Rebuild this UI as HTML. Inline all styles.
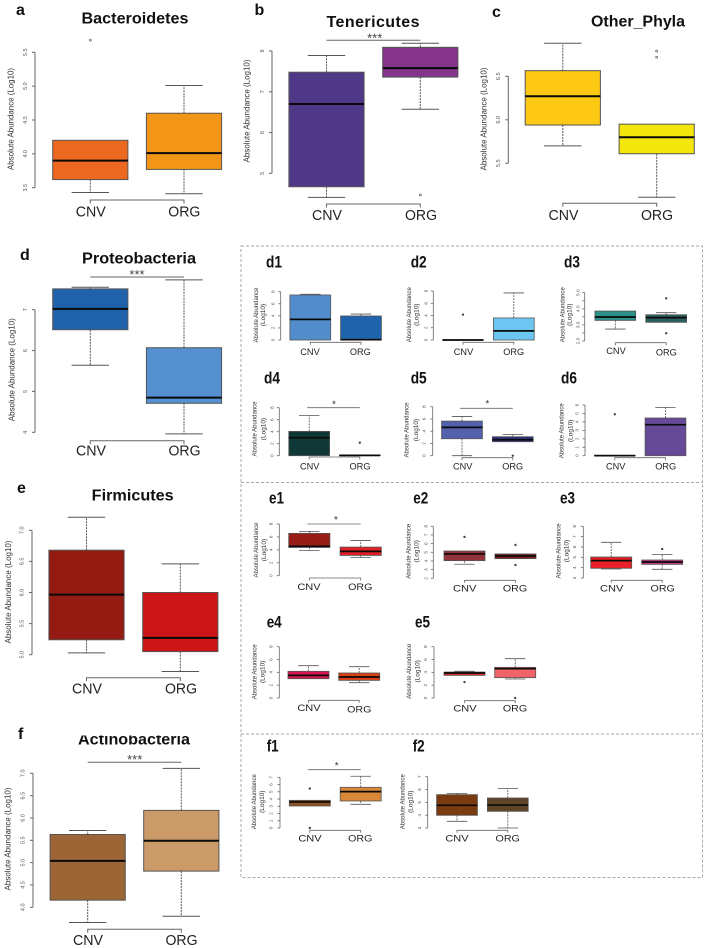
<!DOCTYPE html>
<html lang="en">
<head>
<meta charset="utf-8">
<title>Absolute abundance boxplots by phylum</title>
<style>
html,body{margin:0;padding:0;background:#fff;}
#figure{display:block;width:706px;height:948px;filter:blur(0.35px);}
text{font-family:"Liberation Sans",sans-serif;}
.let{font-size:16px;font-weight:bold;fill:#111;}
.sub{font-size:16.5px;font-weight:bold;fill:#111;}
.ttl{font-size:16px;font-weight:bold;fill:#111;text-anchor:middle;}
.at{font-size:8.4px;fill:#333;text-anchor:middle;}
.sat{font-size:6.5px;fill:#333;text-anchor:middle;}
.cat{font-size:15px;fill:#222;text-anchor:middle;}
.scat{font-size:9.2px;fill:#222;text-anchor:middle;}
.star{font-size:13px;fill:#444;text-anchor:middle;}
.sstar{font-size:10px;fill:#333;text-anchor:middle;}
.frame{fill:none;stroke:#a8a8a8;stroke-width:1;stroke-dasharray:3 2;}
</style>
</head>
<body>
<svg id="figure" xmlns="http://www.w3.org/2000/svg" width="706" height="948" viewBox="0 0 706 948">
<rect x="0" y="0" width="706" height="948" fill="#fff"/>

<g>
<rect class="frame" x="241" y="246" width="461.5" height="631.5"/>
<line class="frame" x1="241" y1="482.5" x2="702.5" y2="482.5"/>
<line class="frame" x1="241" y1="734" x2="702.5" y2="734"/>
</g>

<g id="marks"></g>

<g>
<text class="let" x="16" y="15">a</text>
<text class="ttl" x="135" y="23.3" textLength="107" lengthAdjust="spacingAndGlyphs">Bacteroidetes</text>
<text class="at" transform="translate(13.5,119) rotate(-90)" textLength="102" lengthAdjust="spacingAndGlyphs">Absolute Abundance (Log10)</text>
<text class="cat" x="90.7" y="216.7" textLength="30" lengthAdjust="spacingAndGlyphs">CNV</text>
<text class="cat" x="184.3" y="216.7" textLength="32" lengthAdjust="spacingAndGlyphs">ORG</text>
</g>

<g>
<text class="let" x="254.5" y="15">b</text>
<text class="ttl" x="373" y="27" textLength="93" lengthAdjust="spacing">Tenericutes</text>
<text class="star" x="374.7" y="42.5">***</text>
<text class="at" transform="translate(249.5,111) rotate(-90)" textLength="103" lengthAdjust="spacingAndGlyphs">Absolute Abundance (Log10)</text>
<text class="cat" x="327" y="220" textLength="30" lengthAdjust="spacingAndGlyphs">CNV</text>
<text class="cat" x="421" y="220" textLength="32" lengthAdjust="spacingAndGlyphs">ORG</text>
</g>

<g>
<text class="let" x="492" y="17">c</text>
<text class="ttl" x="638" y="26.7" textLength="94" lengthAdjust="spacingAndGlyphs">Other_Phyla</text>
<text class="at" transform="translate(486.5,119) rotate(-90)" textLength="103" lengthAdjust="spacingAndGlyphs">Absolute Abundance (Log10)</text>
<text class="cat" x="563.5" y="220" textLength="30" lengthAdjust="spacingAndGlyphs">CNV</text>
<text class="cat" x="657" y="220" textLength="32" lengthAdjust="spacingAndGlyphs">ORG</text>
</g>

<g>
<text class="let" x="20" y="260">d</text>
<text class="ttl" x="139" y="263.3" textLength="114" lengthAdjust="spacingAndGlyphs">Proteobacteria</text>
<text class="star" x="137" y="279">***</text>
<text class="at" transform="translate(14.5,369.7) rotate(-90)" textLength="103" lengthAdjust="spacingAndGlyphs">Absolute Abundance (Log10)</text>
<text class="cat" x="91" y="455.7" textLength="30" lengthAdjust="spacingAndGlyphs">CNV</text>
<text class="cat" x="184.5" y="455.7" textLength="32" lengthAdjust="spacingAndGlyphs">ORG</text>
</g>

<g>
<text class="let" x="17" y="493">e</text>
<text class="ttl" x="132.7" y="500.7" textLength="82" lengthAdjust="spacingAndGlyphs">Firmicutes</text>
<text class="at" transform="translate(11,592) rotate(-90)" textLength="103" lengthAdjust="spacingAndGlyphs">Absolute Abundance (Log10)</text>
<text class="cat" x="87" y="693.7" textLength="30" lengthAdjust="spacingAndGlyphs">CNV</text>
<text class="cat" x="181" y="693.7" textLength="32" lengthAdjust="spacingAndGlyphs">ORG</text>
</g>

<g>
<text class="let" x="18" y="739">f</text>
<text class="ttl" x="134" y="744.3" textLength="112" lengthAdjust="spacingAndGlyphs">Actinobacteria</text>
<rect x="70" y="725" width="130" height="10.5" fill="#fff"/>
<text class="star" x="134.7" y="764">***</text>
<text class="at" transform="translate(10.7,839) rotate(-90)" textLength="103" lengthAdjust="spacingAndGlyphs">Absolute Abundance (Log10)</text>
<text class="cat" x="88" y="945" textLength="30" lengthAdjust="spacingAndGlyphs">CNV</text>
<text class="cat" x="181.5" y="945" textLength="32" lengthAdjust="spacingAndGlyphs">ORG</text>
</g>

<g>
<text class="sub" x="266" y="267.7" textLength="16" lengthAdjust="spacingAndGlyphs">d1</text>
<text class="sat" transform="translate(258,315) rotate(-90)" textLength="55" lengthAdjust="spacingAndGlyphs">Absolute Abundance</text>
<text class="sat" transform="translate(265,315) rotate(-90)">(Log10)</text>
<text class="scat" x="310" y="354.8">CNV</text>
<text class="scat" x="360.3" y="354.8">ORG</text>
</g>
<g>
<text class="sub" x="410.7" y="267.7" textLength="16" lengthAdjust="spacingAndGlyphs">d2</text>
<text class="sat" transform="translate(411,314.7) rotate(-90)" textLength="55" lengthAdjust="spacingAndGlyphs">Absolute Abundance</text>
<text class="sat" transform="translate(418.7,314.7) rotate(-90)">(Log10)</text>
<text class="scat" x="463.5" y="354.8">CNV</text>
<text class="scat" x="513.7" y="354.8">ORG</text>
</g>
<g>
<text class="sub" x="564" y="267.7" textLength="16" lengthAdjust="spacingAndGlyphs">d3</text>
<text class="sat" transform="translate(564.3,314.7) rotate(-90)" textLength="55" lengthAdjust="spacingAndGlyphs">Absolute Abundance</text>
<text class="sat" transform="translate(571.3,314.7) rotate(-90)">(Log10)</text>
<text class="scat" x="616" y="354.2">CNV</text>
<text class="scat" x="666.3" y="355.4">ORG</text>
</g>

<g>
<text class="sub" x="264" y="383.3" textLength="16" lengthAdjust="spacingAndGlyphs">d4</text>
<text class="sstar" x="334" y="407.5">*</text>
<text class="sat" transform="translate(256.7,429) rotate(-90)" textLength="55" lengthAdjust="spacingAndGlyphs">Absolute Abundance</text>
<text class="sat" transform="translate(265.3,429) rotate(-90)">(Log10)</text>
<text class="scat" x="309.7" y="469.4">CNV</text>
<text class="scat" x="360" y="469.4">ORG</text>
</g>
<g>
<text class="sub" x="410.7" y="383.3" textLength="16" lengthAdjust="spacingAndGlyphs">d5</text>
<text class="sstar" x="487.3" y="407">*</text>
<text class="sat" transform="translate(408.7,430) rotate(-90)" textLength="55" lengthAdjust="spacingAndGlyphs">Absolute Abundance</text>
<text class="sat" transform="translate(418,430) rotate(-90)">(Log10)</text>
<text class="scat" x="462.7" y="469.4">CNV</text>
<text class="scat" x="512.7" y="469.4">ORG</text>
</g>
<g>
<text class="sub" x="561" y="383.3" textLength="16" lengthAdjust="spacingAndGlyphs">d6</text>
<text class="sat" transform="translate(563.7,430.8) rotate(-90)" textLength="55" lengthAdjust="spacingAndGlyphs">Absolute Abundance</text>
<text class="sat" transform="translate(572.7,430.8) rotate(-90)">(Log10)</text>
<text class="scat" x="615.7" y="469.4">CNV</text>
<text class="scat" x="665.7" y="469.4">ORG</text>
</g>

<g>
<text class="sub" x="269" y="503.3" textLength="15" lengthAdjust="spacingAndGlyphs">e1</text>
<text class="sstar" x="336" y="523">*</text>
<text class="sat" transform="translate(258,550) rotate(-90)" textLength="55" lengthAdjust="spacingAndGlyphs">Absolute Abundance</text>
<text class="sat" transform="translate(266,550) rotate(-90)">(Log10)</text>
<text class="scat" x="309" y="589.8" textLength="23.3" lengthAdjust="spacingAndGlyphs">CNV</text>
<text class="scat" x="360.3" y="589.8" textLength="24.3" lengthAdjust="spacingAndGlyphs">ORG</text>
</g>
<g>
<text class="sub" x="413.3" y="503.3" textLength="15" lengthAdjust="spacingAndGlyphs">e2</text>
<text class="sat" transform="translate(410.3,551.3) rotate(-90)" textLength="55" lengthAdjust="spacingAndGlyphs">Absolute Abundance</text>
<text class="sat" transform="translate(418.7,551.3) rotate(-90)">(Log10)</text>
<text class="scat" x="464.7" y="591.4" textLength="23.3" lengthAdjust="spacingAndGlyphs">CNV</text>
<text class="scat" x="515" y="591.4" textLength="24.3" lengthAdjust="spacingAndGlyphs">ORG</text>
</g>
<g>
<text class="sub" x="560" y="503.3" textLength="15" lengthAdjust="spacingAndGlyphs">e3</text>
<text class="sat" transform="translate(560.3,551) rotate(-90)" textLength="55" lengthAdjust="spacingAndGlyphs">Absolute Abundance</text>
<text class="sat" transform="translate(568.7,551) rotate(-90)">(Log10)</text>
<text class="scat" x="611.7" y="591.4" textLength="23.3" lengthAdjust="spacingAndGlyphs">CNV</text>
<text class="scat" x="662.7" y="591.4" textLength="24.3" lengthAdjust="spacingAndGlyphs">ORG</text>
</g>

<g>
<text class="sub" x="266.7" y="627.7" textLength="15" lengthAdjust="spacingAndGlyphs">e4</text>
<text class="sat" transform="translate(256.3,671.8) rotate(-90)" textLength="55" lengthAdjust="spacingAndGlyphs">Absolute Abundance</text>
<text class="sat" transform="translate(264.3,671.8) rotate(-90)">(Log10)</text>
<text class="scat" x="309" y="711.1" textLength="23.3" lengthAdjust="spacingAndGlyphs">CNV</text>
<text class="scat" x="359.3" y="712.4" textLength="24.3" lengthAdjust="spacingAndGlyphs">ORG</text>
</g>
<g>
<text class="sub" x="415" y="627.7" textLength="15" lengthAdjust="spacingAndGlyphs">e5</text>
<text class="sat" transform="translate(411,671.3) rotate(-90)" textLength="55" lengthAdjust="spacingAndGlyphs">Absolute Abundance</text>
<text class="sat" transform="translate(419.3,671.3) rotate(-90)">(Log10)</text>
<text class="scat" x="465" y="711.4" textLength="23.3" lengthAdjust="spacingAndGlyphs">CNV</text>
<text class="scat" x="515" y="711.4" textLength="24.3" lengthAdjust="spacingAndGlyphs">ORG</text>
</g>

<g>
<text class="sub" x="266.7" y="751.7" textLength="12" lengthAdjust="spacingAndGlyphs">f1</text>
<text class="sstar" x="336.7" y="769">*</text>
<text class="sat" transform="translate(256,801.7) rotate(-90)" textLength="55" lengthAdjust="spacingAndGlyphs">Absolute Abundance</text>
<text class="sat" transform="translate(264,801.7) rotate(-90)">(Log10)</text>
<text class="scat" x="310" y="841.4" textLength="23.3" lengthAdjust="spacingAndGlyphs">CNV</text>
<text class="scat" x="360.3" y="841.4" textLength="24.3" lengthAdjust="spacingAndGlyphs">ORG</text>
</g>
<g>
<text class="sub" x="412.7" y="751.7" textLength="12" lengthAdjust="spacingAndGlyphs">f2</text>
<text class="sat" transform="translate(404.7,801.7) rotate(-90)" textLength="55" lengthAdjust="spacingAndGlyphs">Absolute Abundance</text>
<text class="sat" transform="translate(412.7,801.7) rotate(-90)">(Log10)</text>
<text class="scat" x="457" y="841.4" textLength="23.3" lengthAdjust="spacingAndGlyphs">CNV</text>
<text class="scat" x="507.7" y="841.4" textLength="24.3" lengthAdjust="spacingAndGlyphs">ORG</text>
</g>
</svg>

<script>
// Categories, in drawing order along every x axis
const categories = ['cnv', 'org'];

// Each box row: [lower whisker, Q1, median, Q3, upper whisker]
const ticks_a = ['3.5', '4.0', '4.5', '5.0', '5.5'];
const box_a_cnv = [3.43, 3.62, 3.90, 4.20, 4.20];
const box_a_org = [3.41, 3.77, 4.01, 4.60, 5.01];
const out_a_cnv = [5.68];
const out_a_org = [];

const ticks_b = ['5', '6', '7', '8'];
const box_b_cnv = [4.41, 4.67, 6.70, 7.48, 7.89];
const box_b_org = [6.57, 7.36, 7.58, 8.09, 8.19];
const out_b_cnv = [];
const out_b_org = [4.47];

const ticks_c = ['5.5', '6.0', '6.5'];
const box_c_cnv = [5.70, 5.94, 6.27, 6.565, 6.88];
const box_c_org = [5.11, 5.61, 5.80, 5.95, 5.95];
const out_c_cnv = [];
const out_c_org = [6.72, 6.79];

const ticks_d = ['4', '5', '6', '7'];
const box_d_cnv = [5.64, 6.51, 7.02, 7.51, 7.55];
const box_d_org = [3.96, 4.71, 4.85, 6.07, 7.73];
const out_d_cnv = [];
const out_d_org = [];

const ticks_e = ['5.0', '5.5', '6.0', '6.5', '7.0'];
const box_e_cnv = [5.03, 5.24, 5.965, 6.68, 7.21];
const box_e_org = [4.73, 5.05, 5.27, 6.00, 6.46];
const out_e_cnv = [];
const out_e_org = [];

const ticks_f = ['4.0', '4.5', '5.0', '5.5', '6.0', '6.5', '7.0'];
const box_f_cnv = [3.66, 4.16, 5.04, 5.63, 5.72];
const box_f_org = [3.80, 4.81, 5.49, 6.17, 7.11];
const out_f_cnv = [];
const out_f_org = [];

const ticks_d1 = ['0', '2', '4', '6', '8'];
const box_d1_cnv = [0, 0, 3.42, 7.46, 7.57];
const box_d1_org = [0, 0, 0.05, 3.98, 4.30];
const out_d1_cnv = [];
const out_d1_org = [];

const ticks_d2 = ['0', '2', '4', '6', '8'];
const box_d2_cnv = [0, 0, 0, 0.05, 0.05];
const box_d2_org = [0, 0, 1.49, 3.60, 7.68];
const out_d2_cnv = [4.14];
const out_d2_org = [];

const ticks_d3 = ['2.0', '2.5', '3.0', '3.5', '4.0', '4.5', '5.0'];
const box_d3_cnv = [2.74, 3.28, 3.49, 3.86, 3.86];
const box_d3_org = [3.16, 3.16, 3.45, 3.63, 3.76];
const out_d3_cnv = [];
const out_d3_org = [4.65, 2.48];

const ticks_d4 = ['0', '2', '4', '6', '8'];
const box_d4_cnv = [0, 0, 3.00, 4.05, 6.72];
const box_d4_org = [0, 0, 0.05, 0.11, 0.11];
const out_d4_cnv = [];
const out_d4_org = [2.17];

const ticks_d5 = ['0', '2', '4', '6', '8'];
const box_d5_cnv = [0, 2.77, 4.62, 5.65, 6.41];
const box_d5_org = [2.28, 2.28, 2.61, 3.10, 3.48];
const out_d5_cnv = [];
const out_d5_org = [0];

const ticks_d6 = ['0', '1', '2', '3', '4', '5', '6'];
const box_d6_cnv = [0, 0, 0, 0.06, 0.06];
const box_d6_org = [0, 0, 3.67, 4.46, 5.72];
const out_d6_cnv = [4.90];
const out_d6_org = [];

const ticks_e1 = ['0', '2', '4', '6', '8'];
const box_e1_cnv = [3.92, 4.38, 4.54, 6.55, 6.86];
const box_e1_org = [2.84, 3.14, 3.76, 4.43, 5.46];
const out_e1_cnv = [];
const out_e1_org = [];

const ticks_e2 = ['2', '3', '4', '5', '6', '7', '8'];
const box_e2_cnv = [3.62, 4.04, 4.81, 5.15, 5.15];
const box_e2_org = [4.27, 4.27, 4.58, 4.81, 4.81];
const out_e2_cnv = [6.77];
const out_e2_org = [5.85, 3.54];

const ticks_e3 = ['3', '4', '5', '6', '7', '8'];
const box_e3_cnv = [3.87, 3.94, 4.68, 5.03, 6.45];
const box_e3_org = [3.84, 4.32, 4.55, 4.74, 5.26];
const out_e3_cnv = [];
const out_e3_org = [5.81];

const ticks_e4 = ['0', '2', '4', '6', '8'];
const box_e4_cnv = [3.01, 3.01, 3.53, 4.16, 5.04];
const box_e4_org = [2.39, 2.75, 3.27, 3.90, 4.88];
const out_e4_cnv = [];
const out_e4_org = [];

const ticks_e5 = ['0', '2', '4', '6', '8'];
const box_e5_cnv = [3.53, 3.53, 3.90, 4.05, 4.16];
const box_e5_org = [2.96, 3.17, 4.57, 4.78, 6.13];
const out_e5_cnv = [2.49];
const out_e5_org = [0];

const ticks_f1 = ['0', '1', '2', '3', '4', '5', '6', '7'];
const box_f1_cnv = [3.04, 3.04, 3.60, 3.82, 3.82];
const box_f1_org = [3.27, 3.73, 5.02, 5.62, 7.14];
const out_f1_cnv = [5.44, 0];
const out_f1_org = [];

const ticks_f2 = ['3', '4', '5', '6', '7'];
const box_f2_cnv = [3.52, 3.99, 4.77, 5.60, 5.70];
const box_f2_org = [3.00, 4.30, 4.79, 5.34, 6.09];
const out_f2_cnv = [];
const out_f2_org = [];

// Panel geometry and styling (separate from the data above)
const panels = [
  {id:'a', ticks:ticks_a, boxes:[box_a_cnv, box_a_org], outs:[out_a_cnv, out_a_org], big:true, ax:35, yT:52.3, yB:187.7, c0:90.3, c1:184, hw:37.6, lx:25, brY:200, fillA:'#ec671f', fillB:'#f39617'},
  {id:'b', ticks:ticks_b, boxes:[box_b_cnv, box_b_org], outs:[out_b_cnv, out_b_org], big:true, ax:272, yT:51, yB:173.3, c0:326.5, c1:420.3, hw:37.6, lx:262, brY:204, sigY:40.3, fillA:'#503889', fillB:'#84348a'},
  {id:'c', ticks:ticks_c, boxes:[box_c_cnv, box_c_org], outs:[out_c_cnv, out_c_org], big:true, ax:508.3, yT:76.3, yB:163.3, c0:562.8, c1:656.7, hw:37.6, lx:498, brY:203.3, fillA:'#fdc913', fillB:'#f2e60c'},
  {id:'d', ticks:ticks_d, boxes:[box_d_cnv, box_d_org], outs:[out_d_cnv, out_d_org], big:true, ax:35, yT:309.7, yB:432.3, c0:90.3, c1:184, hw:37.6, lx:25, brY:440.7, sigY:277, fillA:'#1f62ab', fillB:'#5490cf'},
  {id:'e', ticks:ticks_e, boxes:[box_e_cnv, box_e_org], outs:[out_e_cnv, out_e_org], big:true, ax:32, yT:530.3, yB:654.7, c0:86.5, c1:180.3, hw:37.6, lx:21.7, brY:677.7, fillA:'#941b12', fillB:'#cb1517'},
  {id:'f', ticks:ticks_f, boxes:[box_f_cnv, box_f_org], outs:[out_f_cnv, out_f_org], big:true, ax:33, yT:773.3, yB:907.3, c0:87.7, c1:181.3, hw:37.6, lx:22.7, brY:929.3, sigY:762.3, fillA:'#9b6535', fillB:'#cb9a69'},
  {id:'d1', ticks:ticks_d1, boxes:[box_d1_cnv, box_d1_org], outs:[out_d1_cnv, out_d1_org], ax:280.7, yT:291.7, yB:340, c0:310.3, c1:361, hw:20.4, lx:273, brY:342.3, fillA:'#528ccb', fillB:'#1f63ab'},
  {id:'d2', ticks:ticks_d2, boxes:[box_d2_cnv, box_d2_org], outs:[out_d2_cnv, out_d2_org], ax:433.3, yT:291, yB:340, c0:463, c1:513.8, hw:20.4, lx:426, brY:342.3, fillA:'#444444', fillB:'#6dc6f1'},
  {id:'d3', ticks:ticks_d3, boxes:[box_d3_cnv, box_d3_org], outs:[out_d3_cnv, out_d3_org], labelEvery:2, ax:584.7, yT:292.7, yB:341, c0:615.3, c1:666.2, hw:20.4, lx:577.7, brY:342.7, fillA:'#2f9089', fillB:'#29605f'},
  {id:'d4', ticks:ticks_d4, boxes:[box_d4_cnv, box_d4_org], outs:[out_d4_cnv, out_d4_org], ax:279.3, yT:407.7, yB:455.7, c0:309.2, c1:359.8, hw:20.4, lx:272, brY:457, sigY:407.7, fillA:'#0f3836', fillB:'#0f3836'},
  {id:'d5', ticks:ticks_d5, boxes:[box_d5_cnv, box_d5_org], outs:[out_d5_cnv, out_d5_org], ax:432.7, yT:406.7, yB:455.7, c0:462, c1:512.8, hw:20.4, lx:424, brY:457.7, sigY:408.3, fillA:'#5360ab', fillB:'#2d327f'},
  {id:'d6', ticks:ticks_d6, boxes:[box_d6_cnv, box_d6_org], outs:[out_d6_cnv, out_d6_org], ax:585, yT:405, yB:455.7, c0:614.8, c1:665.5, hw:20.4, lx:577, brY:457.7, fillA:'#3f3a6a', fillB:'#664a98'},
  {id:'e1', ticks:ticks_e1, boxes:[box_e1_cnv, box_e1_org], outs:[out_e1_cnv, out_e1_org], ax:279.3, yT:524, yB:575.7, c0:309.3, c1:360.7, hw:20.6, lx:271, brY:578, sigY:524, fillA:'#961c15', fillB:'#e11f26'},
  {id:'e2', ticks:ticks_e2, boxes:[box_e2_cnv, box_e2_org], outs:[out_e2_cnv, out_e2_org], ax:433.3, yT:526.3, yB:578.3, c0:464.5, c1:515.5, hw:20.5, lx:425.7, brY:580.3, fillA:'#92323a', fillB:'#7a2020'},
  {id:'e3', ticks:ticks_e3, boxes:[box_e3_cnv, box_e3_org], outs:[out_e3_cnv, out_e3_org], ax:583.3, yT:526.3, yB:578, c0:611.2, c1:662.2, hw:20.5, lx:574.3, brY:580.3, fillA:'#ea2027', fillB:'#c83283'},
  {id:'e4', ticks:ticks_e4, boxes:[box_e4_cnv, box_e4_org], outs:[out_e4_cnv, out_e4_org], ax:279.3, yT:646.7, yB:698, c0:308.5, c1:359.2, hw:20.5, lx:270.7, brY:700.3, fillA:'#db1752', fillB:'#d94016'},
  {id:'e5', ticks:ticks_e5, boxes:[box_e5_cnv, box_e5_org], outs:[out_e5_cnv, out_e5_org], ax:434, yT:646.7, yB:698, c0:464.5, c1:515.2, hw:20.5, lx:425.3, brY:700.7, fillA:'#e2282c', fillB:'#ef6468'},
  {id:'f1', ticks:ticks_f1, boxes:[box_f1_cnv, box_f1_org], outs:[out_f1_cnv, out_f1_org], ax:280, yT:777.3, yB:828, c0:309.8, c1:360.7, hw:20.5, lx:271, brY:830.3, sigY:769.7, fillA:'#8c5225', fillB:'#d98839'},
  {id:'f2', ticks:ticks_f2, boxes:[box_f2_cnv, box_f2_org], outs:[out_f2_cnv, out_f2_org], ax:427.7, yT:776.7, yB:828, c0:457, c1:507.8, hw:20.4, lx:419.3, brY:830.3, fillA:'#7a3b10', fillB:'#5f4527'}
];

const svgNS = 'http://www.w3.org/2000/svg';
const marks = document.getElementById('marks');

function shape(parent, tag, attrs) {
  const el = document.createElementNS(svgNS, tag);
  for (const k in attrs) el.setAttribute(k, attrs[k]);
  parent.appendChild(el);
  return el;
}

function yScale(p, v) {
  const lo = parseFloat(p.ticks[0]);
  const hi = parseFloat(p.ticks[p.ticks.length - 1]);
  return p.yB - (v - lo) / (hi - lo) * (p.yB - p.yT);
}

function xScale(p, i) {
  return p.c0 + i * (p.c1 - p.c0);
}

function drawPanel(p) {
  const g = shape(marks, 'g', {});
  
  

  const sw = p.big ? 1 : 0.8;
  const capHalf = p.big ? 18.7 : 10.2;
  const tickLen = p.big ? 3 : 2.5;

  const axis = shape(g, 'line', {x1:p.ax, x2:p.ax, y1:yScale(p, parseFloat(p.ticks[0])), y2:yScale(p, parseFloat(p.ticks[p.ticks.length - 1])), stroke:'#666', 'stroke-width':sw});
  
  

  p.ticks.forEach(function (t, ti) {
    const v = parseFloat(t);
    const y = yScale(p, v);
    const tick = shape(g, 'line', {x1:p.ax - tickLen, x2:p.ax, y1:y, y2:y, stroke:'#666', 'stroke-width':sw});
    
    
    if (ti % (p.labelEvery || 1) !== 0) return;
    const label = shape(g, 'text', {x:0, y:0, dy:'0.35em', transform:'translate(' + p.lx + ',' + y + ') rotate(-90)', 'text-anchor':'middle', 'font-size':p.big ? 5.5 : 4.8, fill:'#555'});
    
    
    label.textContent = t;
  });

  p.boxes.forEach(function (b, i) {
    const cat = categories[i];
    const cx = xScale(p, i);
    const lo = b[0], q1 = b[1], med = b[2], q3 = b[3], hi = b[4];

    if (hi > q3) {
      const upper = shape(g, 'line', {x1:cx, x2:cx, y1:yScale(p, q3), y2:yScale(p, hi), stroke:'#555', 'stroke-width':sw, 'stroke-dasharray':'2 1'});
      
      
      const upperCap = shape(g, 'line', {x1:cx - capHalf, x2:cx + capHalf, y1:yScale(p, hi), y2:yScale(p, hi), stroke:'#555', 'stroke-width':sw});
      
      
    }
    if (lo < q1) {
      const lower = shape(g, 'line', {x1:cx, x2:cx, y1:yScale(p, q1), y2:yScale(p, lo), stroke:'#555', 'stroke-width':sw, 'stroke-dasharray':'2 1'});
      
      
      const lowerCap = shape(g, 'line', {x1:cx - capHalf, x2:cx + capHalf, y1:yScale(p, lo), y2:yScale(p, lo), stroke:'#555', 'stroke-width':sw});
      
      
    }

    const box = shape(g, 'rect', {x:cx - p.hw, width:2 * p.hw, y:yScale(p, q3), height:Math.max(0.1, yScale(p, q1) - yScale(p, q3)), fill:i === 0 ? p.fillA : p.fillB, stroke:'#555', 'stroke-width':sw});
    
    

    const median = shape(g, 'line', {x1:cx - p.hw, x2:cx + p.hw, y1:yScale(p, med), y2:yScale(p, med), stroke:'#0a0a0a', 'stroke-width':p.big ? 2 : 1.7});
    
    

    p.outs[i].forEach(function (o) {
      const dot = shape(g, 'circle', {cx:cx, cy:yScale(p, o), r:p.big ? 1 : 0.9, fill:p.big ? 'none' : '#444', stroke:'#444', 'stroke-width':0.6});
      
      
    });
  });

  const x0 = xScale(p, 0), x1 = xScale(p, 1);
  const tickDown = p.big ? 3.5 : 2.5;
  const bracket = shape(g, 'path', {d:'M' + x0 + ' ' + (p.brY + tickDown) + 'V' + p.brY + 'H' + x1 + 'V' + (p.brY + tickDown), fill:'none', stroke:'#666', 'stroke-width':sw});
  
  

  if (p.sigY) {
    const sig = shape(g, 'line', {x1:x0 - (p.big ? 0 : 2), x2:x1, y1:p.sigY, y2:p.sigY, stroke:'#666', 'stroke-width':sw});
    
    
  }
}

panels.forEach(drawPanel);
</script>
</body>
</html>
